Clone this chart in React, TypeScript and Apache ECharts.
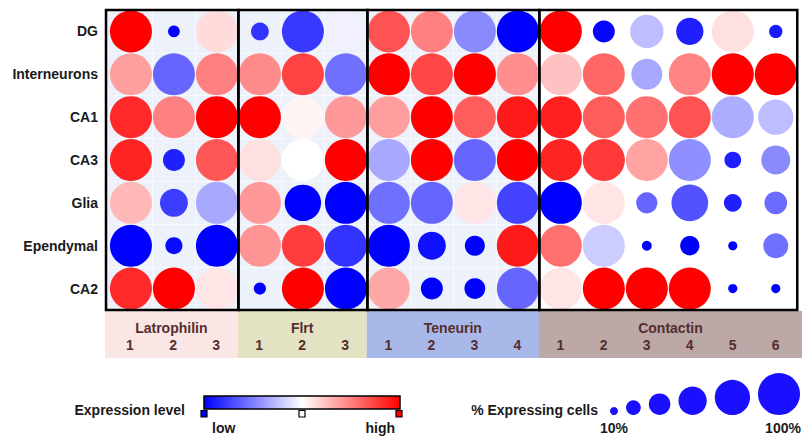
import React, { useEffect, useRef } from "react";
import * as echarts from "echarts";

const rows = ["DG", "Interneurons", "CA1", "CA3", "Glia", "Ependymal", "CA2"];
const groupNames = ["Latrophilin", "Flrt", "Teneurin", "Contactin"];
const groupCounts = [3, 3, 4, 6];
const columnLabels = ["1", "2", "3", "1", "2", "3", "1", "2", "3", "4", "1", "2", "3", "4", "5", "6"];

// expression level: 0 = low (blue), 0.5 = mid (white), 1 = high (red)
const levelDG = [1.0, 0.0, 0.57, 0.1, 0.11, 0.47, 0.84, 0.75, 0.27, 0.0, 1.0, 0.01, 0.37, 0.06, 0.56, 0.05];
const levelInterneurons = [0.69, 0.2, 0.75, 0.73, 0.87, 0.22, 1.0, 0.86, 1.0, 0.72, 0.62, 0.8, 0.33, 0.74, 1.0, 1.0];
const levelCA1 = [0.92, 0.75, 1.0, 1.0, 0.52, 0.7, 0.69, 1.0, 0.82, 0.95, 0.94, 0.82, 0.78, 0.84, 0.34, 0.37];
const levelCA3 = [0.93, 0.06, 0.83, 0.56, 0.5, 1.0, 0.33, 1.0, 0.2, 1.0, 0.93, 0.89, 0.68, 0.28, 0.06, 0.27];
const levelGlia = [0.64, 0.12, 0.33, 0.7, 0.0, 0.0, 0.22, 0.2, 0.55, 0.13, 0.0, 0.55, 0.2, 0.16, 0.06, 0.21];
const levelEpendymal = [0.0, 0.02, 0.0, 0.71, 0.88, 0.1, 0.0, 0.03, 0.0, 0.95, 0.78, 0.4, 0.0, 0.0, 0.0, 0.22];
const levelCA2 = [0.92, 1.0, 0.55, 0.0, 1.0, 0.0, 0.67, 0.0, 0.0, 0.2, 0.55, 1.0, 1.0, 1.0, 0.0, 0.0];

// % expressing cells
const pctDG = [100, 20, 100, 36, 100, 95, 100, 100, 100, 100, 100, 47, 77, 61, 100, 24];
const pctInterneurons = [100, 100, 100, 100, 100, 100, 100, 100, 100, 100, 100, 100, 71, 100, 100, 100];
const pctCA1 = [100, 100, 100, 100, 100, 100, 100, 100, 100, 100, 100, 100, 100, 100, 100, 82];
const pctCA3 = [100, 47, 100, 100, 100, 100, 100, 100, 100, 100, 100, 100, 100, 100, 33, 66];
const pctGlia = [100, 63, 100, 100, 85, 100, 100, 100, 100, 100, 100, 100, 45, 86, 36, 49];
const pctEpendymal = [100, 34, 100, 100, 100, 100, 100, 63, 42, 100, 100, 100, 15, 40, 13, 55];
const pctCA2 = [100, 100, 100, 21, 100, 100, 100, 47, 44, 100, 100, 100, 100, 100, 13, 13];

const sizeLegendPct = [10, 28, 46, 64, 82, 100];

const levels = [levelDG, levelInterneurons, levelCA1, levelCA3, levelGlia, levelEpendymal, levelCA2];
const pcts = [pctDG, pctInterneurons, pctCA1, pctCA3, pctGlia, pctEpendymal, pctCA2];

// styles
const FONT = "Liberation Sans, Arial, Helvetica, sans-serif";
const groupBandColors = ["#FBE6E6", "#E3E2C2", "#A8B8E8", "#BCA8A6"];
const bandTextColor = "#552E2E";
const X_MIN = -0.58;
const X_MAX = 15.61;
const GRID_LEFT = 106;
const GRID_WIDTH = 705;
const SIZE_MIN = 8;
const SIZE_MAX = 42;

export default function App() {
  const ref = useRef<HTMLDivElement>(null);
  useEffect(() => {
    if (!ref.current) return;
    const chart = echarts.init(ref.current, null, { renderer: "svg" });

    const data: number[][] = [];
    rows.forEach((_, r) => {
      columnLabels.forEach((__, c) => {
        data.push([c, r, levels[r][c], pcts[r][c]]);
      });
    });

    // group boundaries
    const bounds: number[] = [];
    let acc = 0;
    groupCounts.forEach((n) => {
      bounds.push(acc);
      acc += n;
    });
    const groupStart = (g: number) => (g === 0 ? X_MIN : bounds[g] - 0.5);
    const groupEnd = (g: number) => (g === groupCounts.length - 1 ? X_MAX : bounds[g] + groupCounts[g] - 0.5);
    const panelEnd = bounds[3] - 0.5;

    const vLines: any[] = [];
    for (let c = 0; c < bounds[3] - 1; c++) {
      if (bounds.includes(c + 1)) continue;
      vLines.push({ xAxis: c + 0.5 });
    }

    const borderAreas = groupNames.map((_, g) => [
      { xAxis: groupStart(g) },
      { xAxis: bounds[g] + groupCounts[g] - 0.5 },
    ]);

    const bandAreas = groupNames.map((_, g) => [
      {
        xAxis: groupStart(g) - (g === 0 ? 0.02 : 0),
        itemStyle: { color: groupBandColors[g], opacity: 1 },
      },
      { xAxis: groupEnd(g) },
    ]);

    chart.setOption({
      animation: false,
      grid: [
        {
          left: GRID_LEFT,
          top: 10,
          width: GRID_WIDTH,
          height: 300,
          show: true,
          backgroundColor: "#EDF1F9",
          borderWidth: 0,
        },
        { left: GRID_LEFT - 1, top: 311, width: GRID_WIDTH, height: 47 },
      ],
      xAxis: [
        { type: "value", gridIndex: 0, min: X_MIN, max: X_MAX, show: false, splitLine: { show: false } },
        { type: "value", gridIndex: 1, min: X_MIN, max: X_MAX, show: false, splitLine: { show: false } },
      ],
      yAxis: [
        {
          type: "category",
          gridIndex: 0,
          data: rows,
          inverse: true,
          axisLine: { show: false },
          axisTick: { show: false },
          axisLabel: {
            margin: 8,
            fontFamily: FONT,
            fontSize: 14,
            fontWeight: "bold",
            color: "#1a1a1a",
          },
          splitLine: { show: true, lineStyle: { color: "#F7F9FD", width: 1 } },
        },
        { type: "value", gridIndex: 1, min: 0, max: 1, show: false, splitLine: { show: false } },
      ],
      visualMap: [
        {
          type: "continuous",
          show: false,
          seriesIndex: 0,
          dimension: 2,
          min: 0,
          max: 1,
          inRange: { color: ["#0000ff", "#ffffff", "#ff0000"] },
        },
        {
          type: "continuous",
          show: false,
          seriesIndex: 0,
          dimension: 3,
          min: 10,
          max: 100,
          inRange: { symbolSize: [SIZE_MIN, SIZE_MAX] },
        },
      ],
      series: [
        {
          type: "scatter",
          xAxisIndex: 0,
          yAxisIndex: 0,
          z: 3,
          data,
          itemStyle: { opacity: 1, borderWidth: 0 },
          silent: true,
        },
        {
          type: "scatter",
          xAxisIndex: 0,
          yAxisIndex: 0,
          data: [[0, 0]],
          symbolSize: 0,
          itemStyle: { opacity: 0 },
          silent: true,
          clip: false,
          markArea: {
            z: 1,
            silent: true,
            itemStyle: { color: "#ffffff", opacity: 1 },
            data: [[{ xAxis: panelEnd }, { xAxis: X_MAX }]],
          },
          markLine: {
            z: 1.5,
            silent: true,
            symbol: ["none", "none"],
            label: { show: false },
            lineStyle: { color: "#F7F9FD", width: 1, type: "solid" },
            data: vLines,
          },
        },
        {
          type: "scatter",
          xAxisIndex: 0,
          yAxisIndex: 0,
          data: [[0, 0]],
          symbolSize: 0,
          itemStyle: { opacity: 0 },
          silent: true,
          clip: false,
          z: 10,
          markArea: {
            z: 10,
            silent: true,
            itemStyle: { color: "rgba(0,0,0,0)", borderColor: "#000", borderWidth: 2.5 },
            data: borderAreas,
          },
        },
        {
          type: "scatter",
          xAxisIndex: 1,
          yAxisIndex: 1,
          data: [[0, 0]],
          symbolSize: 0,
          itemStyle: { opacity: 0 },
          silent: true,
          z: 1,
          markArea: { z: 1, silent: true, data: bandAreas },
        },
      ],
    });

    // texts placed through the band grid's scale
    const px = (v: number[]) => chart.convertToPixel({ gridIndex: 1 }, v) as number[];

    const textEl = (text: string, x: number, y: number, align: string, fill: string) => ({
      type: "text",
      x,
      y,
      z: 100,
      style: {
        text,
        fontFamily: FONT,
        fontSize: 14,
        fontWeight: "bold",
        fill,
        align,
        verticalAlign: "middle",
      },
      silent: true,
    });

    const bandTexts: any[] = [];
    columnLabels.forEach((lab, i) => {
      const p = px([i, 0.27]);
      bandTexts.push(textEl(lab, p[0], p[1], "center", bandTextColor));
    });
    groupNames.forEach((name, g) => {
      const p = px([(groupStart(g) + groupEnd(g)) / 2, 0.64]);
      bandTexts.push(textEl(name, p[0], p[1], "center", bandTextColor));
    });

    const radius = (p: number) =>
      (SIZE_MIN + ((p - 10) / 90) * (SIZE_MAX - SIZE_MIN)) / 2;
    const legendCircles: any[] = [];
    let cx = 614;
    sizeLegendPct.forEach((p, i) => {
      const r = radius(p);
      if (i > 0) cx += radius(sizeLegendPct[i - 1]) + r + 8;
      legendCircles.push({
        type: "circle",
        shape: { cx, cy: 415 - r, r },
        style: { fill: "#1a10ff" },
        silent: true,
      });
    });

    const square = (x: number, fill: string) => ({
      type: "rect",
      shape: { x, y: 410.5, width: 6, height: 6.5 },
      style: { fill, stroke: "#000", lineWidth: 1.2 },
      silent: true,
    });

    const dark = "#1a1a1a";
    chart.setOption({
      graphic: [
        ...bandTexts,
        textEl("Expression level", 185, 410, "right", dark),
        {
          type: "rect",
          shape: { x: 204, y: 396, width: 196, height: 13 },
          style: {
            fill: new echarts.graphic.LinearGradient(0, 0, 1, 0, [
              { offset: 0, color: "#0000ff" },
              { offset: 0.5, color: "#ffffff" },
              { offset: 1, color: "#ff0000" },
            ]),
            stroke: "#000",
            lineWidth: 1.5,
          },
          silent: true,
        },
        square(201, "#0000ff"),
        square(299, "#ffffff"),
        square(396, "#ff0000"),
        textEl("low", 212, 428, "left", dark),
        textEl("high", 395, 428, "right", dark),
        textEl("% Expressing cells", 598, 410, "right", dark),
        ...legendCircles,
        textEl("10%", 614, 428, "center", dark),
        textEl("100%", 783, 428, "center", dark),
      ],
    });

    return () => chart.dispose();
  }, []);

  return (
    <div
      ref={ref}
      style={{ position: "absolute", left: 0, top: 0, width: 802, height: 438 }}
    />
  );
}
